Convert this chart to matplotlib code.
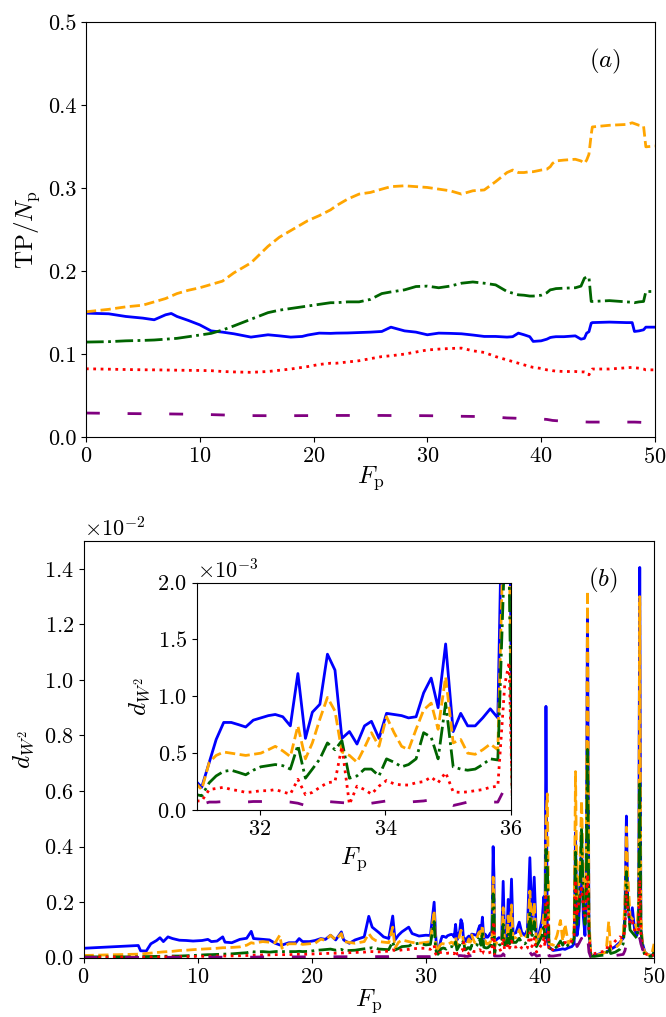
import numpy as np
import matplotlib
matplotlib.use("Agg")
import matplotlib.pyplot as plt
from matplotlib.ticker import ScalarFormatter

plt.rcParams.update({
    "font.family": "serif",
    "font.serif": ["cmr10"],
    "mathtext.fontset": "cm",
    "axes.formatter.use_mathtext": True,
    "axes.unicode_minus": False,
    "font.size": 16,
})

# ---------------- panel (a): TP/N_p vs F_p ----------------
Fp_a = [0, 2, 3.5, 5, 6, 7, 7.5, 8, 9, 10, 11, 12, 13, 14.5, 16, 17, 18, 19, 19.5, 20.5,
        21.5, 22, 23, 24, 25, 26, 26.8, 28, 29, 30, 31, 32, 33, 34, 35, 36, 37, 37.5, 38, 38.5,
        39, 39.3, 40, 40.5, 40.8, 41, 41.3, 42, 43, 43.5, 43.8, 44, 44.2, 44.4, 44.5, 46, 47.5, 48, 48.2, 48.6,
        49, 49.2, 50]
tp_blue = [0.1494, 0.1486, 0.1454, 0.1434, 0.1414, 0.1474, 0.149, 0.1454, 0.1406, 0.1353,
           0.128, 0.1265, 0.1245, 0.1205, 0.1233, 0.122, 0.1205, 0.1213, 0.123, 0.1253,
           0.125, 0.1253, 0.1255, 0.126, 0.1265, 0.1273, 0.1325, 0.128, 0.1265, 0.1233,
           0.1253, 0.125, 0.1245, 0.123, 0.1213, 0.1213, 0.1205, 0.121, 0.1253, 0.1233,
           0.121, 0.1153, 0.116, 0.118, 0.12, 0.1205, 0.121, 0.121, 0.122, 0.118,
           0.119, 0.1253, 0.127, 0.1373, 0.138, 0.1386, 0.138, 0.138, 0.1273, 0.128,
           0.1293, 0.1325, 0.1325]
tp_orange = [0.151, 0.154, 0.157, 0.159, 0.163, 0.167, 0.170, 0.173, 0.177, 0.180,
             0.184, 0.188, 0.198, 0.210, 0.230, 0.241, 0.249, 0.257, 0.261, 0.267,
             0.274, 0.279, 0.287, 0.293, 0.295, 0.299, 0.302, 0.303, 0.302, 0.301,
             0.299, 0.297, 0.293, 0.297, 0.298, 0.308, 0.319, 0.322, 0.319, 0.319,
             0.320, 0.320, 0.322, 0.323, 0.326, 0.330, 0.333, 0.334, 0.335, 0.333,
             0.330, 0.334, 0.341, 0.365, 0.374, 0.376, 0.377, 0.379, 0.378, 0.376,
             0.375, 0.350, 0.351]
tp_green = [0.1145, 0.115, 0.116, 0.1165, 0.117, 0.118, 0.1185, 0.119, 0.121, 0.123,
            0.125, 0.129, 0.134, 0.142, 0.150, 0.153, 0.155, 0.157, 0.158, 0.160,
            0.162, 0.162, 0.163, 0.163, 0.166, 0.173, 0.175, 0.1775, 0.1815, 0.182,
            0.180, 0.182, 0.1855, 0.187, 0.1855, 0.1835, 0.1755, 0.1735, 0.1715, 0.171,
            0.170, 0.170, 0.171, 0.174, 0.1775, 0.178, 0.179, 0.1795, 0.180, 0.182,
            0.1915, 0.193, 0.193, 0.1635, 0.1635, 0.1645, 0.163, 0.1625, 0.162, 0.163,
            0.1635, 0.1755, 0.1755]
tp_red = [0.0823, 0.0818, 0.0814, 0.0811, 0.081, 0.0808, 0.0807, 0.0806, 0.0804, 0.0803,
          0.080, 0.079, 0.0785, 0.078, 0.079, 0.0805, 0.082, 0.084, 0.085, 0.0875,
          0.089, 0.089, 0.0905, 0.092, 0.0945, 0.097, 0.098, 0.100, 0.1025, 0.105,
          0.106, 0.1068, 0.1072, 0.104, 0.102, 0.097, 0.093, 0.091, 0.089, 0.087,
          0.085, 0.084, 0.0827, 0.081, 0.0805, 0.080, 0.0795, 0.079, 0.079, 0.0785,
          0.0785, 0.078, 0.075, 0.080, 0.082, 0.082, 0.0835, 0.084, 0.0835, 0.083,
          0.082, 0.081, 0.081]
tp_purple = [0.0289, 0.0286, 0.0283, 0.0281, 0.028, 0.0279, 0.0278, 0.0277, 0.0275, 0.0273,
             0.0270, 0.0266, 0.0262, 0.0258, 0.0257, 0.0257, 0.0257, 0.0258, 0.0258, 0.0258,
             0.0259, 0.026, 0.026, 0.026, 0.026, 0.026, 0.0259, 0.0258, 0.0258, 0.0257,
             0.0255, 0.0252, 0.025, 0.0248, 0.0245, 0.024, 0.023, 0.0228, 0.0225, 0.0222,
             0.022, 0.0219, 0.0217, 0.0212, 0.0205, 0.020, 0.0197, 0.019, 0.0185, 0.0183,
             0.0182, 0.0181, 0.018, 0.018, 0.018, 0.018, 0.018, 0.018, 0.018, 0.0178,
             0.0175, 0.0172, 0.0169]

# ---------------- panel (b): d_{W^2} vs F_p (values in units of 1e-3) ----------------
Fp_b1 = [0, 1, 2, 3, 4, 4.8, 5.0, 5.5, 5.9, 6.4, 6.7, 7.0, 7.4, 7.8, 8.4, 9.0, 9.6, 10.4, 10.9, 11.2,
         11.7, 12.2, 12.4, 13.0, 13.7, 14.3, 14.7, 14.9, 15.7, 16.3, 16.8, 17.2, 17.4, 17.5, 18.0, 18.6, 18.9, 19.2, 19.8, 20.3,
         20.8, 21.2, 21.65, 22.1, 22.6, 22.8, 23.3, 23.8, 24.6, 25.0, 25.3, 25.6, 25.9, 26.3, 26.75, 27.1, 27.3, 27.6, 27.9, 28.5,
         28.8, 29.4, 30.0, 30.4, 30.73, 30.85]
Fp_b2 = [30.96, 31.08, 31.20, 31.31, 31.43, 31.55, 31.67, 31.78, 31.90, 32.02, 32.14, 32.25, 32.37, 32.49, 32.61,
         32.73, 32.84, 32.96, 33.08, 33.20, 33.31, 33.43, 33.55, 33.67, 33.78, 33.90, 34.02, 34.14, 34.26, 34.37,
         34.49, 34.61, 34.73, 34.84, 34.96, 35.08, 35.20, 35.31, 35.43, 35.55, 35.67, 35.79, 35.90, 35.97, 36.02]
Fp_b3 = [36.10, 36.4, 36.65, 36.78, 36.9, 37.1, 37.22, 37.35, 37.51, 37.65, 37.9, 38.19, 38.4, 38.68, 38.9, 39.12, 39.3, 39.5, 39.7, 39.95,
         40.2, 40.35, 40.45, 40.53, 40.65, 40.8, 41.17, 41.5, 41.8, 42.0, 42.2, 42.5, 42.8, 43.0, 43.12, 43.25, 43.4, 43.52, 43.65, 43.8,
         43.95, 44.05, 44.17, 44.3, 44.45, 44.8, 45.3, 45.8, 46.03, 46.2, 46.6, 47.0, 47.3, 47.45, 47.58, 47.7, 47.9, 48.1, 48.3, 48.5,
         48.65, 48.75, 48.85, 49.0, 49.2, 49.5, 49.8, 50.0]

dw_blue = ([0.34, 0.36, 0.38, 0.40, 0.42, 0.44, 0.25, 0.24, 0.50, 0.62, 0.72, 0.58, 0.75, 0.69, 0.63, 0.62, 0.60, 0.62, 0.66, 0.58,
            0.60, 0.75, 0.56, 0.54, 0.66, 0.70, 0.95, 0.69, 0.66, 0.64, 0.52, 0.46, 0.46, 0.47, 0.54, 0.54, 0.69, 0.58, 0.58, 0.62,
            0.69, 0.66, 0.81, 0.64, 0.93, 0.64, 0.52, 0.64, 0.75, 1.49, 1.10, 1.00, 0.90, 0.75, 0.69, 1.50, 0.64, 0.81, 0.93, 1.10,
            0.87, 0.78, 0.81, 0.80, 2.00, 0.90]
           + [0.27, 0.20, 0.42, 0.62, 0.77, 0.77, 0.75, 0.73, 0.79, 0.81, 0.83, 0.84, 0.82, 0.74, 1.20,
              0.63, 0.86, 0.93, 1.37, 1.23, 0.63, 0.69, 0.58, 0.74, 0.78, 0.63, 0.85, 0.84, 0.83, 0.81,
              0.82, 1.03, 1.16, 0.90, 1.46, 0.69, 0.85, 0.74, 0.74, 0.81, 0.89, 0.81, 4.00, 3.00, 0.35]
           + [0.62, 0.72, 0.70, 2.75, 0.74, 0.78, 2.10, 0.80, 2.83, 0.86, 0.90, 1.28, 0.92, 0.80, 1.00, 3.60, 1.22, 2.90, 0.62, 0.90,
              1.40, 2.20, 1.20, 9.05, 0.60, 0.38, 0.26, 0.28, 0.30, 0.32, 0.30, 0.36, 0.40, 0.50, 4.50, 0.80, 1.20, 3.00, 4.00, 1.50,
              0.80, 2.50, 12.50, 1.00, 0.10, 0.08, 0.15, 0.20, 0.25, 0.30, 0.40, 0.55, 0.70, 1.50, 5.10, 2.00, 1.20, 1.80, 1.00, 0.80,
              1.50, 14.05, 1.00, 0.50, 0.20, 0.10, 0.08, 0.10])
dw_orange = ([0.08, 0.09, 0.10, 0.11, 0.12, 0.13, 0.13, 0.15, 0.17, 0.19, 0.20, 0.21, 0.22, 0.23, 0.26, 0.27, 0.29, 0.31, 0.32, 0.33,
              0.34, 0.36, 0.36, 0.37, 0.39, 0.45, 0.54, 0.52, 0.58, 0.56, 0.54, 0.81, 0.34, 0.40, 0.50, 0.50, 0.52, 0.48, 0.50, 0.52,
              0.67, 0.62, 0.81, 0.64, 0.87, 0.58, 0.55, 0.52, 0.58, 0.87, 0.70, 0.62, 0.58, 0.56, 0.54, 1.10, 0.34, 0.55, 0.64, 0.58,
              0.55, 0.52, 0.55, 0.58, 1.70, 0.60]
             + [0.25, 0.18, 0.42, 0.48, 0.51, 0.50, 0.49, 0.48, 0.49, 0.50, 0.53, 0.56, 0.52, 0.47, 0.74,
                0.45, 0.59, 0.80, 0.99, 0.87, 0.51, 0.48, 0.42, 0.55, 0.68, 0.56, 0.82, 0.68, 0.56, 0.53,
                0.71, 0.88, 0.94, 0.71, 1.17, 0.59, 0.62, 0.50, 0.49, 0.53, 0.58, 0.53, 2.90, 2.40, 0.30]
             + [0.50, 0.60, 0.62, 1.80, 0.62, 0.65, 1.50, 0.66, 1.90, 0.70, 0.72, 1.00, 0.74, 0.70, 0.85, 2.40, 0.95, 2.00, 0.55, 0.80,
                1.10, 1.60, 1.00, 5.00, 5.90, 0.50, 0.45, 0.80, 1.34, 0.60, 1.20, 0.50, 0.70, 1.00, 6.70, 2.00, 2.50, 3.50, 5.65, 3.00,
                2.00, 3.00, 13.20, 1.50, 0.10, 0.10, 0.12, 0.20, 1.30, 0.30, 0.35, 0.50, 0.80, 2.00, 4.70, 3.00, 1.50, 1.40, 1.30, 1.00,
                2.00, 13.00, 1.50, 0.40, 0.20, 0.10, 0.10, 0.50])
dw_green = ([0.03, 0.03, 0.03, 0.03, 0.03, 0.035, 0.035, 0.04, 0.04, 0.045, 0.05, 0.05, 0.055, 0.06, 0.06, 0.07, 0.08, 0.10, 0.11, 0.11,
             0.12, 0.13, 0.13, 0.14, 0.16, 0.18, 0.22, 0.21, 0.22, 0.20, 0.22, 0.23, 0.22, 0.22, 0.22, 0.22, 0.23, 0.22, 0.23, 0.26,
             0.28, 0.30, 0.31, 0.27, 0.30, 0.26, 0.26, 0.27, 0.32, 0.34, 0.36, 0.34, 0.31, 0.30, 0.29, 0.58, 0.28, 0.33, 0.40, 0.42,
             0.48, 0.52, 0.46, 0.48, 1.30, 0.35]
            + [0.14, 0.125, 0.24, 0.30, 0.34, 0.35, 0.33, 0.31, 0.35, 0.38, 0.39, 0.40, 0.39, 0.36, 0.57,
               0.28, 0.36, 0.45, 0.59, 0.53, 0.61, 0.28, 0.30, 0.36, 0.36, 0.30, 0.45, 0.42, 0.38, 0.40,
               0.45, 0.68, 0.64, 0.45, 0.94, 0.38, 0.36, 0.35, 0.36, 0.40, 0.45, 0.44, 2.30, 2.10, 0.10]
            + [0.30, 0.45, 0.48, 1.20, 0.45, 0.48, 0.90, 0.50, 1.10, 0.55, 0.55, 0.70, 0.55, 0.50, 0.60, 1.60, 0.70, 1.30, 0.40, 0.60,
               0.80, 1.20, 0.70, 3.90, 3.50, 0.35, 0.30, 0.40, 0.60, 0.45, 0.60, 0.40, 0.50, 0.70, 3.80, 1.20, 1.50, 2.50, 4.70, 2.00,
               1.20, 2.00, 7.50, 1.00, 0.05, 0.05, 0.08, 0.10, 0.40, 0.15, 0.20, 0.30, 0.50, 1.20, 3.10, 2.00, 1.00, 0.90, 0.80, 0.70,
               1.20, 6.35, 1.00, 0.30, 0.10, 0.05, 0.05, 0.20])
dw_red = ([0.02, 0.02, 0.02, 0.02, 0.02, 0.02, 0.02, 0.02, 0.025, 0.025, 0.03, 0.03, 0.03, 0.035, 0.04, 0.04, 0.045, 0.05, 0.05, 0.055,
           0.06, 0.06, 0.06, 0.065, 0.07, 0.08, 0.09, 0.09, 0.10, 0.10, 0.11, 0.11, 0.11, 0.11, 0.11, 0.12, 0.12, 0.12, 0.13, 0.14,
           0.15, 0.15, 0.16, 0.16, 0.17, 0.17, 0.18, 0.19, 0.20, 0.22, 0.22, 0.21, 0.21, 0.22, 0.24, 0.28, 0.25, 0.26, 0.28, 0.30,
           0.32, 0.34, 0.34, 0.30, 0.45, 0.15]
          + [0.08, 0.08, 0.18, 0.19, 0.20, 0.18, 0.17, 0.155, 0.16, 0.17, 0.17, 0.18, 0.16, 0.14, 0.27,
             0.135, 0.155, 0.20, 0.24, 0.25, 0.56, 0.05, 0.21, 0.18, 0.14, 0.21, 0.26, 0.23, 0.22, 0.22,
             0.24, 0.25, 0.29, 0.24, 0.33, 0.16, 0.155, 0.16, 0.17, 0.18, 0.20, 0.21, 1.10, 1.30, 0.10]
          + [0.15, 0.25, 0.30, 0.70, 0.30, 0.32, 0.50, 0.35, 0.60, 0.40, 0.38, 0.45, 0.35, 0.30, 0.35, 0.90, 0.40, 0.70, 0.20, 0.35,
             0.50, 0.70, 0.40, 2.20, 2.00, 0.25, 0.30, 0.40, 0.45, 0.50, 0.55, 0.50, 0.60, 0.80, 2.80, 1.50, 2.00, 2.20, 2.50, 1.80,
             1.50, 2.00, 3.00, 0.80, 0.15, 0.15, 0.20, 0.25, 0.50, 0.40, 0.60, 0.75, 0.70, 1.00, 2.40, 1.80, 1.20, 1.30, 1.00, 0.90,
             1.00, 2.80, 0.80, 0.30, 0.15, 0.10, 0.08, 0.10])
dw_purple = ([0.01, 0.01, 0.01, 0.01, 0.01, 0.01, 0.015, 0.015, 0.015, 0.015, 0.015, 0.015, 0.015, 0.015, 0.015, 0.015, 0.015, 0.02, 0.02, 0.02,
              0.02, 0.02, 0.02, 0.02, 0.02, 0.02, 0.02, 0.02, 0.03, 0.03, 0.03, 0.03, 0.03, 0.03, 0.03, 0.03, 0.03, 0.03, 0.03, 0.035,
              0.035, 0.035, 0.035, 0.035, 0.035, 0.035, 0.035, 0.035, 0.035, 0.04, 0.04, 0.04, 0.04, 0.04, 0.04, 0.06, 0.04, 0.04, 0.04, 0.04,
              0.04, 0.04, 0.04, 0.04, 0.06, 0.04]
             + [0.04, 0.05, 0.07, 0.07, 0.075, 0.075, 0.075, 0.07, 0.075, 0.075, 0.08, 0.08, 0.075, 0.07, 0.06,
                0.04, 0.06, 0.08, 0.075, 0.07, 0.065, 0.06, 0.05, 0.045, 0.06, 0.07, 0.08, 0.08, 0.075, 0.07,
                0.075, 0.08, 0.09, 0.10, 0.07, 0.04, 0.055, 0.07, 0.07, 0.07, 0.07, 0.07, 0.19, 0.17, 0.06]
             + [0.06, 0.06, 0.07, 0.14, 0.07, 0.07, 0.10, 0.07, 0.12, 0.08, 0.08, 0.10, 0.08, 0.07, 0.08, 0.20, 0.09, 0.15, 0.06, 0.08,
                0.10, 0.15, 0.10, 0.50, 0.40, 0.06, 0.06, 0.08, 0.10, 0.08, 0.10, 0.08, 0.12, 0.20, 0.60, 0.40, 0.50, 0.60, 0.70, 0.45,
                0.40, 0.50, 0.80, 0.20, 0.03, 0.03, 0.04, 0.05, 0.15, 0.08, 0.08, 0.10, 0.12, 0.25, 0.50, 0.40, 0.30, 0.35, 0.30, 0.40,
                0.50, 0.70, 0.50, 0.30, 0.10, 0.05, 0.04, 0.04])

Fp_b = np.array(Fp_b1 + Fp_b2 + Fp_b3)
UNIT = 1e-3

styles = [
    dict(color="blue", ls="-"),
    dict(color="orange", ls="--"),
    dict(color="darkgreen", ls="-."),
    dict(color="red", ls=":"),
    dict(color="purple", ls=(0, (5, 10))),
]
LW = 2.0

fig = plt.figure(figsize=(6.66, 10.17), dpi=100)

# ---- top panel
ax1 = fig.add_axes([0.129, 0.5703, 0.8544, 0.4076])
for ys, st in zip([tp_blue, tp_orange, tp_green, tp_red, tp_purple], styles):
    ax1.plot(Fp_a, ys, lw=LW, **st)
ax1.set_xlim(0, 50)
ax1.set_ylim(0, 0.5)
ax1.set_xticks([0, 10, 20, 30, 40, 50])
ax1.set_yticks([0.0, 0.1, 0.2, 0.3, 0.4, 0.5])
ax1.set_yticklabels(["0.0", "0.1", "0.2", "0.3", "0.4", "0.5"])
ax1.set_xlabel(r"$F_{\rm p}$", fontsize=18, labelpad=-2)
ax1.set_ylabel(r"${\rm TP}/N_{\rm p}$", fontsize=18, labelpad=4)
ax1.text(0.913, 0.905, r"$(a)$", transform=ax1.transAxes, fontsize=18, ha="center", va="center")

# ---- bottom panel
ax2 = fig.add_axes([0.1254, 0.0583, 0.8566, 0.4097])
for ys, st in zip([dw_blue, dw_orange, dw_green, dw_red, dw_purple], styles):
    ax2.plot(Fp_b, np.array(ys) * UNIT, lw=LW, **st)
ax2.set_xlim(0, 50)
ax2.set_ylim(0, 0.015)
ax2.set_xticks([0, 10, 20, 30, 40, 50])
ax2.set_yticks(np.array([0.0, 0.2, 0.4, 0.6, 0.8, 1.0, 1.2, 1.4]) * 1e-2)
fmt2 = ScalarFormatter(useMathText=True)
fmt2.set_powerlimits((0, 0))
ax2.yaxis.set_major_formatter(fmt2)
ax2.yaxis.get_offset_text().set_fontsize(16)
ax2.set_xlabel(r"$F_{\rm p}$", fontsize=18, labelpad=0)
ax2.set_ylabel(r"$d_{W^2}$", fontsize=18, labelpad=6)
ax2.text(0.91, 0.905, r"$(b)$", transform=ax2.transAxes, fontsize=18, ha="center", va="center")

# ---- inset
ax3 = fig.add_axes([0.2953, 0.2035, 0.472, 0.2237])
for ys, st in zip([dw_blue, dw_orange, dw_green, dw_red, dw_purple], styles):
    ax3.plot(Fp_b, np.array(ys) * UNIT, lw=LW, **st)
ax3.set_xlim(31, 36)
ax3.set_ylim(0, 0.002)
ax3.set_xticks([32, 34, 36])
ax3.set_yticks(np.array([0.0, 0.5, 1.0, 1.5, 2.0]) * 1e-3)
fmt3 = ScalarFormatter(useMathText=True)
fmt3.set_powerlimits((0, 0))
ax3.yaxis.set_major_formatter(fmt3)
ax3.yaxis.get_offset_text().set_fontsize(16)
ax3.set_xlabel(r"$F_{\rm p}$", fontsize=18, labelpad=4)
ax3.set_ylabel(r"$d_{W^2}$", fontsize=18, labelpad=4)

for ax in (ax1, ax2, ax3):
    ax.tick_params(labelsize=16, direction="out", length=3.5)

fig.savefig("out.png", dpi=100)
